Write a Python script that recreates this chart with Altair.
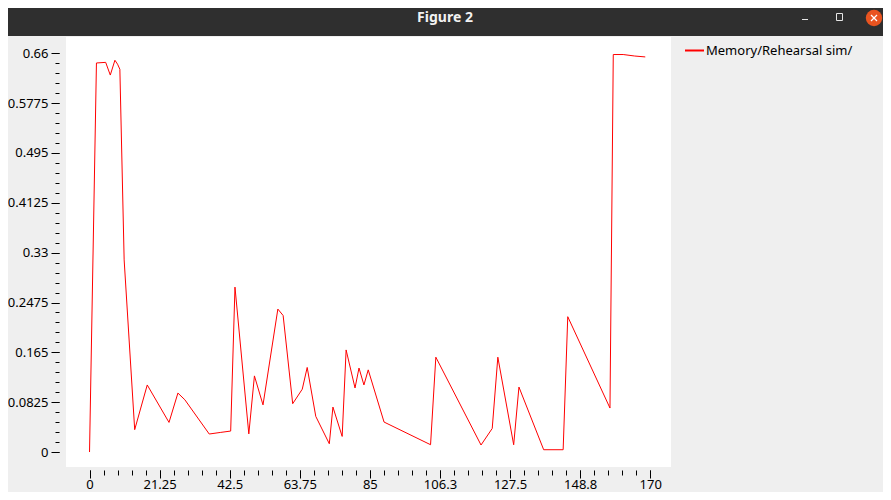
import altair as alt
import pandas as pd

# ---- data ----
series_name = "Memory/Rehearsal sim/"
xs = [0, 2.1, 4.9, 6.3, 7.7, 8.5, 9.2, 10.5, 13.7, 17.5, 24.1, 26.8, 28.9, 36.3,
      39.8, 42.8, 44.1, 48.3, 50.0, 52.6, 57.1, 58.7, 61.6, 64.5, 66.0, 68.6,
      72.7, 73.8, 76.6, 77.8, 80.5, 81.7, 83.2, 84.5, 89.3, 103.4, 105.0, 118.7,
      122.1, 123.8, 128.6, 130.2, 137.7, 143.6, 145.0, 157.8, 158.8, 161.8,
      165.3, 168.5]
ys = [0, 0.644, 0.645, 0.624, 0.6485, 0.642, 0.6336, 0.318, 0.037, 0.111, 0.049,
      0.0976, 0.0865, 0.0298, 0.0325, 0.0347, 0.273, 0.030, 0.126, 0.078, 0.2366,
      0.226, 0.080, 0.104, 0.140, 0.059, 0.0137, 0.0744, 0.0258, 0.169, 0.106,
      0.139, 0.111, 0.136, 0.0496, 0.0121, 0.157, 0.0116, 0.039, 0.157, 0.012,
      0.1075, 0.0038, 0.0038, 0.224, 0.0728, 0.658, 0.658, 0.6555, 0.654]

x_major = [0, 21.25, 42.5, 63.75, 85, 106.25, 127.5, 148.75, 170]
y_major = [0, 0.0825, 0.165, 0.2475, 0.33, 0.4125, 0.495, 0.5775, 0.66]
x_minor = [i * 4.25 for i in range(41)]
y_minor = [i * 0.0165 for i in range(41)]

window_title = "Figure 2"

df = pd.DataFrame({"x": xs, "y": ys, "series": [series_name] * len(xs)})
one = pd.DataFrame({"a": [1]})

FONT = "Noto Sans"
x_scale = alt.Scale(domain=[-7.13, 176.3], nice=False, zero=False)
y_scale = alt.Scale(domain=[-0.0248, 0.687], nice=False, zero=False)

label_style = dict(domain=False, grid=False, title=None, tickColor="black",
                   labelFont=FONT, labelFontSize=13, labelColor="black",
                   labelOverlap=False, labelBound=False)

x_axis_major = alt.Axis(orient="bottom", values=x_major, format=".4~g",
                        tickSize=8, labelPadding=0, labelFlush=False, offset=3,
                        **label_style)
y_axis_major = alt.Axis(orient="left", values=y_major, format=".4~g",
                        tickSize=8, labelPadding=3, offset=7, **label_style)
x_axis_minor = alt.Axis(orient="bottom", values=x_minor, labels=False,
                        tickSize=5, domain=False, grid=False, title=None,
                        tickColor="black", offset=3)
y_axis_minor = alt.Axis(orient="left", values=y_minor, labels=False,
                        tickSize=4, domain=False, grid=False, title=None,
                        tickColor="black", offset=7)

line = alt.Chart(df).mark_line(strokeWidth=1).encode(
    x=alt.X("x:Q", scale=x_scale, axis=x_axis_major),
    y=alt.Y("y:Q", scale=y_scale, axis=y_axis_major),
    color=alt.Color("series:N", scale=alt.Scale(range=["#ff0000"]),
                    legend=alt.Legend(title=None, orient="none", legendX=618,
                                      legendY=3, symbolType="stroke",
                                      symbolStrokeWidth=2, symbolSize=361,
                                      labelFont=FONT, labelFontSize=13,
                                      labelColor="black", labelOffset=1,
                                      padding=0)),
)

minor = alt.Chart(df).mark_line(opacity=0).encode(
    x=alt.X("x:Q", scale=x_scale, axis=x_axis_minor),
    y=alt.Y("y:Q", scale=y_scale, axis=y_axis_minor),
)

# ---- window chrome (title bar) ----
bar = alt.Chart(one).mark_rect(color="#2f2f2f").encode(
    x=alt.value(-58), x2=alt.value(817), y=alt.value(-29), y2=alt.value(-1))
title_txt = alt.Chart(one).mark_text(
    text=window_title, font=FONT, fontSize=14, fontWeight="bold",
    color="#f2f2f2", align="center", baseline="middle").encode(
    x=alt.value(379), y=alt.value(-19))
minimize = alt.Chart(one).mark_rule(color="#e6e6e6", strokeWidth=1).encode(
    x=alt.value(736), x2=alt.value(742), y=alt.value(-17.5), y2=alt.value(-17.5))
maximize = alt.Chart(one).mark_rect(fillOpacity=0, stroke="#e6e6e6", strokeWidth=1).encode(
    x=alt.value(770.5), x2=alt.value(776.5), y=alt.value(-23.5), y2=alt.value(-16.5))
close_circle = alt.Chart(one).mark_circle(color="#e95420", size=270, opacity=1).encode(
    x=alt.value(808), y=alt.value(-19))
close_a = alt.Chart(one).mark_rule(color="white", strokeWidth=1.3).encode(
    x=alt.value(805), x2=alt.value(811), y=alt.value(-22), y2=alt.value(-16))
close_b = alt.Chart(one).mark_rule(color="white", strokeWidth=1.3).encode(
    x=alt.value(805), x2=alt.value(811), y=alt.value(-16), y2=alt.value(-22))

chart = alt.layer(line, minor, bar, title_txt, minimize, maximize,
                  close_circle, close_a, close_b).resolve_axis(
    x="independent", y="independent"
).properties(
    width=605, height=430,
    autosize=alt.AutoSizeParams(type="none"),
    padding={"left": 58, "top": 29, "right": 212, "bottom": 25},
    background="#efefef",
).configure_view(fill="white", stroke=None)

chart.save("out.html", embed_options={"renderer": "svg", "actions": False})
